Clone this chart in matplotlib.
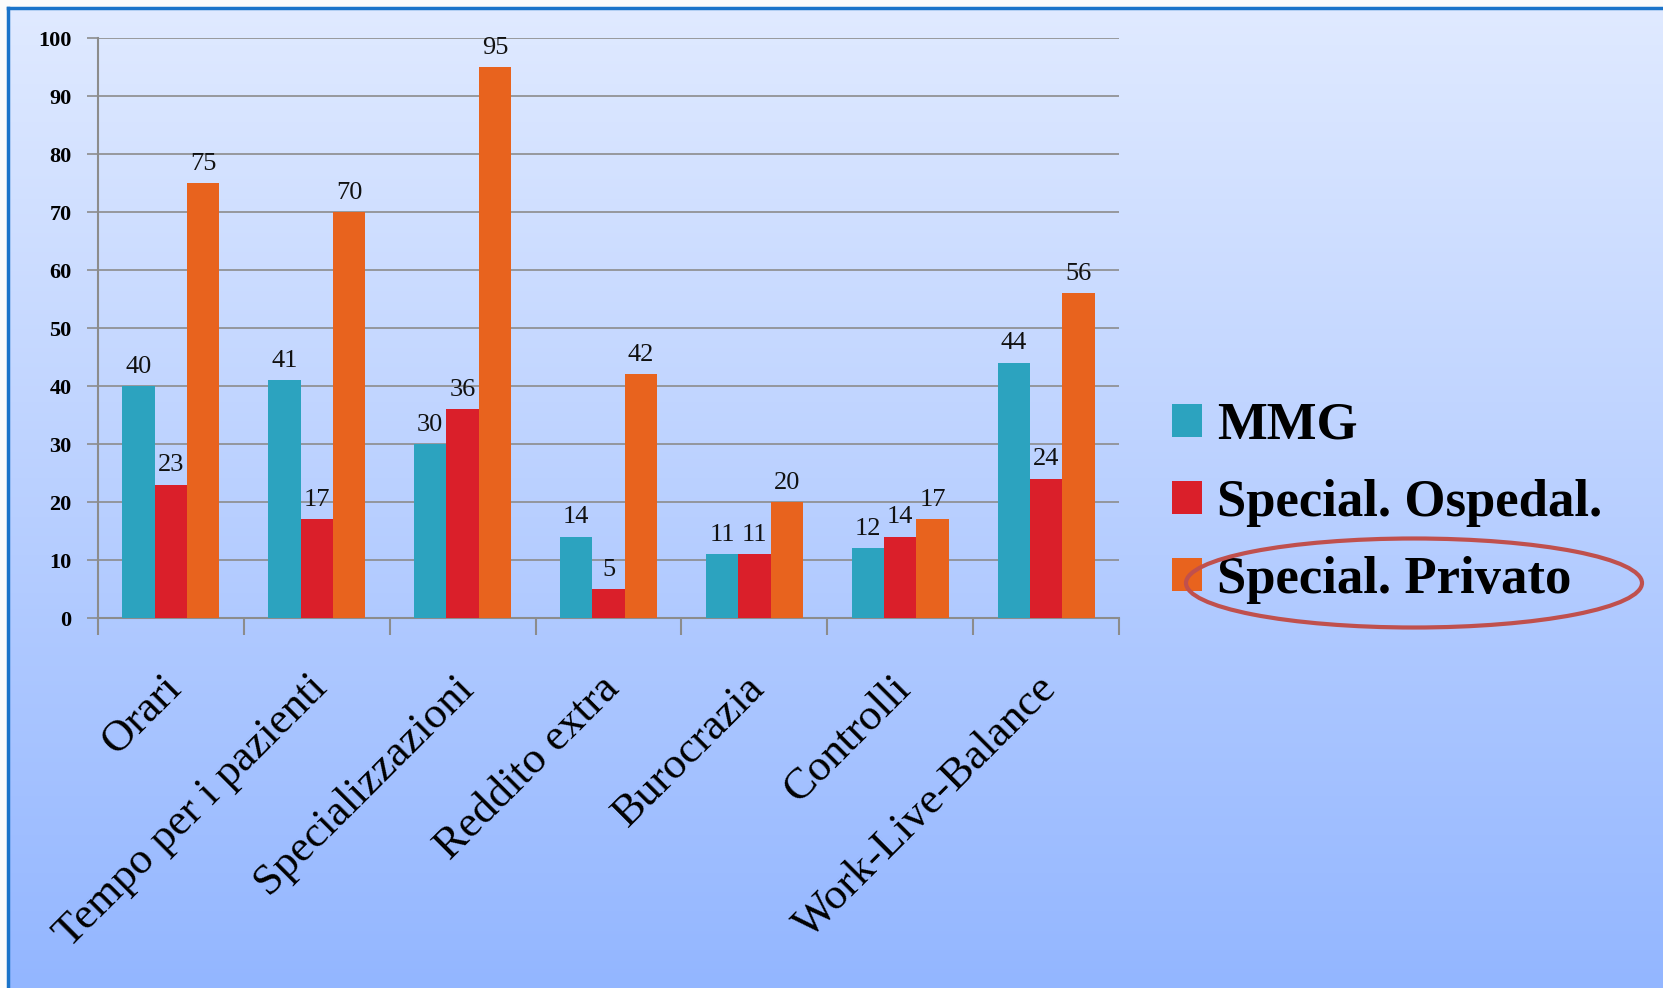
import numpy as np
import matplotlib
matplotlib.use("Agg")
import matplotlib.pyplot as plt
import matplotlib.transforms as mtransforms
from matplotlib.patches import Ellipse, Patch
from matplotlib.lines import Line2D

# data
categories = ["Orari", "Tempo per i pazienti", "Specializzazioni", "Reddito extra",
              "Burocrazia", "Controlli", "Work-Live-Balance"]
series_names = ["MMG", "Special. Ospedal.", "Special. Privato"]
mmg = [40, 41, 30, 14, 11, 12, 44]
ospedal = [23, 17, 36, 5, 11, 14, 24]
privato = [75, 70, 95, 42, 20, 17, 56]
y_ticks = [0, 10, 20, 30, 40, 50, 60, 70, 80, 90, 100]

colors = ["#2ca3bf", "#da1f2a", "#e8631e"]
grid_color = "#8c8c8c"
serif = ["Liberation Serif", "DejaVu Serif"]

W, H = 1663, 988
fig = plt.figure(figsize=(W / 100, H / 100), dpi=100)
fig.patch.set_facecolor("#fbfbfb")

# gradient background panel (slide background)
bx0, by1 = 8 / W, 1 - 8 / H
bg = fig.add_axes([bx0, 0, 1 - bx0, by1])
grad = np.linspace(0, 1, 256).reshape(-1, 1)
top = np.array([0xe0, 0xea, 0xff]) / 255
bot = np.array([0x93, 0xb6, 0xff]) / 255
img = top[None, None, :] * (1 - grad[:, :, None]) + bot[None, None, :] * grad[:, :, None]
bg.imshow(img, aspect="auto", extent=[0, 1, 0, 1])
bg.set_axis_off()
fig.add_artist(Line2D([bx0, 1], [by1, by1], transform=fig.transFigure, color="#1a73c9", lw=2.5))
fig.add_artist(Line2D([bx0, bx0], [0, by1], transform=fig.transFigure, color="#1a73c9", lw=2.5))

ax = fig.add_axes([98 / W, 1 - 618 / H, (1119 - 98) / W, (618 - 38) / H])
ax.set_facecolor("none")

x = np.arange(len(categories))
bw = 0.222
for i, (vals, name) in enumerate(zip([mmg, ospedal, privato], series_names)):
    bars = ax.bar(x + (i - 1) * bw, vals, bw, color=colors[i], label=name, zorder=3)
    ax.bar_label(bars, padding=6, fontsize=19, family=serif, color="#111111")

ax.set_xlim(-0.5, len(categories) - 0.5)
ax.set_ylim(0, 100)
ax.set_yticks(y_ticks)
ax.set_yticklabels([str(v) for v in y_ticks], fontsize=16, fontweight="bold", family=serif)
ax.yaxis.grid(True, color=grid_color, lw=1.2, zorder=0)
ax.tick_params(axis="y", length=8, color=grid_color, width=1.2, pad=11)

ax.set_xticks(x)
ax.set_xticklabels(categories, rotation=45, ha="right", va="top", rotation_mode="anchor",
                   fontsize=32, family=serif)
ax.tick_params(axis="x", which="major", length=0, pad=36)
shift = mtransforms.ScaledTranslation(-10 / 100, 0, fig.dpi_scale_trans)
for lbl in ax.get_xticklabels():
    lbl.set_transform(lbl.get_transform() + shift)
ax.set_xticks(np.arange(-0.5, len(categories)), minor=True)
ax.tick_params(axis="x", which="minor", length=12, color=grid_color, width=1.5)

for s in ["top", "right"]:
    ax.spines[s].set_visible(False)
for s in ["left", "bottom"]:
    ax.spines[s].set_color(grid_color)
    ax.spines[s].set_linewidth(1.5)

handles = [Patch(facecolor=c, edgecolor="none") for c in colors]
ax.legend(handles, series_names, loc="center left", bbox_to_anchor=(1124 / W, 1 - 503 / H),
          bbox_transform=fig.transFigure, frameon=False,
          prop={"family": serif, "weight": "bold", "size": 38},
          handlelength=0.57, handleheight=0.57, handletextpad=0.3, labelspacing=0.55)

fig.add_artist(Ellipse((1414 / W, 1 - 583 / H), 456 / W, 89 / H, transform=fig.transFigure,
                       fill=False, edgecolor="#c0504d", lw=3))

fig.savefig("out.png", dpi=100)
